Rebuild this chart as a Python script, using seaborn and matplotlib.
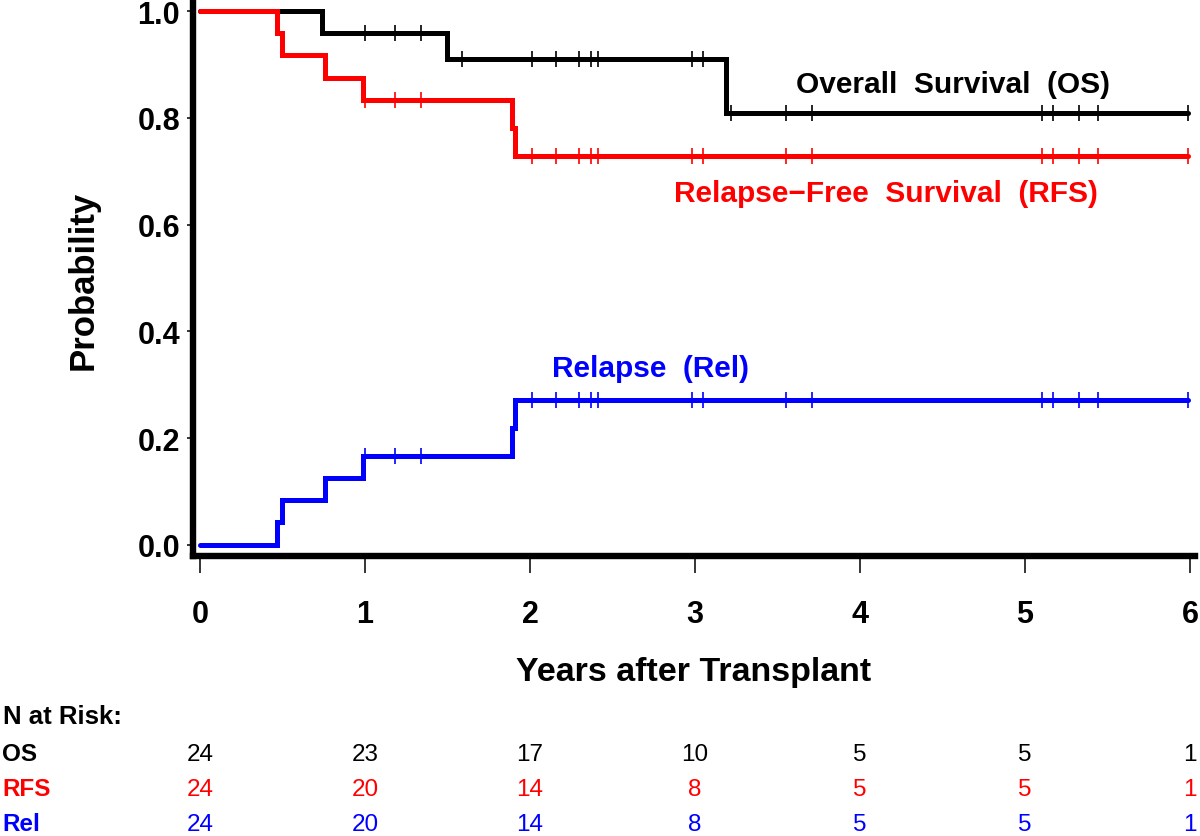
import numpy as np
import pandas as pd
import matplotlib
matplotlib.use("Agg")
import matplotlib.pyplot as plt
import matplotlib.transforms as mtransforms
import seaborn as sns

# -------------------------------------------------
# Data
# -------------------------------------------------

# step curves: time of each step and the value after it
os_time = [0.0, 0.74, 1.50, 3.19, 5.99]
os_prob = [1.0, 0.958, 0.910, 0.809, 0.809]

rfs_time = [0.0, 0.47, 0.50, 0.76, 0.99, 1.89, 1.91, 5.99]
rfs_prob = [1.0, 0.958, 0.917, 0.875, 0.833, 0.781, 0.729, 0.729]

rel_time = [0.0, 0.47, 0.50, 0.76, 0.99, 1.89, 1.91, 5.99]
rel_prob = [0.0, 0.042, 0.083, 0.125, 0.167, 0.219, 0.271, 0.271]

# censoring marks
os_censor = [1.00, 1.18, 1.34, 1.59, 2.01, 2.16, 2.30, 2.37, 2.41, 2.98,
             3.05, 3.22, 3.55, 3.71, 5.10, 5.17, 5.33, 5.44, 5.99]
rfs_censor = [1.00, 1.18, 1.34, 2.01, 2.16, 2.30, 2.37, 2.41, 2.98,
              3.05, 3.55, 3.71, 5.10, 5.17, 5.33, 5.44, 5.99]
rel_censor = rfs_censor

# numbers at risk
risk_years = [0, 1, 2, 3, 4, 5, 6]
os_risk = [24, 23, 17, 10, 5, 5, 1]
rfs_risk = [24, 20, 14, 8, 5, 5, 1]
rel_risk = [24, 20, 14, 8, 5, 5, 1]

curves = [
    ("OS", os_time, os_prob, os_censor, "black"),
    ("RFS", rfs_time, rfs_prob, rfs_censor, "#ff0000"),
    ("Rel", rel_time, rel_prob, rel_censor, "#0000ff"),
]

# -------------------------------------------------
# Style
# -------------------------------------------------
sns.set_style("white")
plt.rcParams["font.family"] = ["Liberation Sans", "DejaVu Sans"]
plt.rcParams["font.weight"] = "bold"
plt.rcParams["axes.labelweight"] = "bold"
plt.rcParams["text.color"] = "black"
plt.rcParams["axes.labelcolor"] = "black"

W, H = 1200, 837
fig = plt.figure(figsize=(W / 100, H / 100), dpi=100)
ax = fig.add_axes([193 / W, 1 - 557 / H, 1002 / W, 554 / H])

# -------------------------------------------------
# Curves and censor ticks
# -------------------------------------------------
for name, t, p, cens, col in curves:
    df = pd.DataFrame({"t": t, "p": p})
    sns.lineplot(data=df, x="t", y="p", ax=ax, color=col, linewidth=3.6,
                 drawstyle="steps-post", estimator=None, sort=False,
                 legend=False, solid_joinstyle="miter")
    idx = np.searchsorted(np.array(t), np.array(cens), side="right") - 1
    cdf = pd.DataFrame({"t": cens, "p": np.array(p)[idx]})
    sns.scatterplot(data=cdf, x="t", y="p", ax=ax, color=col, marker="|",
                    s=120, linewidth=1.2, legend=False, zorder=3)

# curve labels
ax.text(3.614, 0.849, "Overall  Survival  (OS)", color="black",
        fontsize=21.5, ha="left", va="baseline")
ax.text(2.874, 0.645, "Relapse\u2212Free  Survival  (RFS)", color="#ff0000",
        fontsize=21.5, ha="left", va="baseline")
ax.text(2.135, 0.317, "Relapse  (Rel)", color="#0000ff",
        fontsize=21.5, ha="left", va="baseline")

# -------------------------------------------------
# Axes
# -------------------------------------------------
ax.set_xlim(-0.042, 6.03)
ax.set_ylim(-0.021, 1.017)
ax.set_xticks(risk_years)
ax.set_yticks(np.arange(0, 1.01, 0.2))
ax.set_yticklabels([f"{v:.1f}" for v in np.arange(0, 1.01, 0.2)])
ax.tick_params(axis="x", length=12.2, width=1.1, pad=18.5, labelsize=22,
               color="black", labelcolor="black", direction="out", bottom=True)
ax.tick_params(axis="y", length=4.3, width=1.1, pad=5, labelsize=22,
               color="black", labelcolor="black", direction="out", left=True)

for side in ["top", "right"]:
    ax.spines[side].set_visible(False)
for side in ["left", "bottom"]:
    ax.spines[side].set_linewidth(4.6)
    ax.spines[side].set_color("black")

ax.set_xlabel("Years after Transplant", fontsize=24.5, fontweight="bold",
              color="black")
ax.xaxis.set_label_coords(0.5, -0.181)
ax.set_ylabel("Probability", fontsize=25, fontweight="bold", color="black")
ax.yaxis.set_label_coords(-0.093, 0.5)

# -------------------------------------------------
# N at risk table
# -------------------------------------------------
fig.text(3 / W, 1 - 724 / H, "N at Risk:", fontsize=18.5,
         ha="left", va="baseline", color="black")

row_base = [761.0, 796.0, 831.0]
risk_rows = [("OS", os_risk, "black"), ("RFS", rfs_risk, "#ff0000"),
             ("Rel", rel_risk, "#0000ff")]
blend = mtransforms.blended_transform_factory(ax.transData, fig.transFigure)
for (lab, vals, col), yb in zip(risk_rows, row_base):
    fig.text(2 / W, 1 - yb / H, lab, fontsize=17.5, ha="left",
             va="baseline", color=col)
    for xv, n in zip(risk_years, vals):
        ax.text(xv, 1 - yb / H, str(n), transform=blend, fontsize=17.5,
                fontweight="normal", ha="center", va="baseline", color=col,
                clip_on=False)

plt.savefig("out.png", dpi=100)
